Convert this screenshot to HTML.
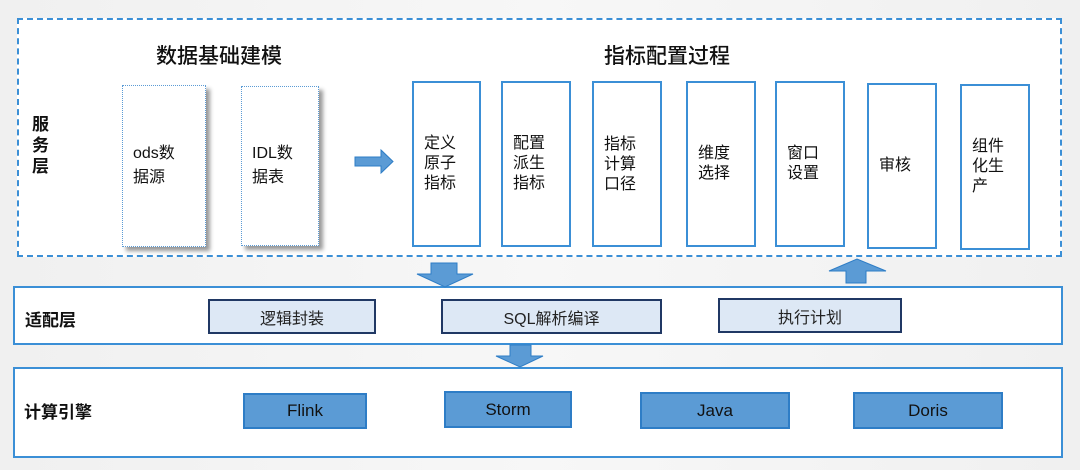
<!DOCTYPE html>
<html><head><meta charset="utf-8"><style>
body{margin:0;width:1080px;height:470px;overflow:hidden;background:linear-gradient(90deg,#f0f0f0,#f7f7f7 50%,#f0f0f0);font-family:"Liberation Sans","Noto Sans CJK SC",sans-serif;color:#111;position:relative}
.a{position:absolute;box-sizing:border-box}
.ib{border:2px solid #3b8fd6;background:#fff;padding-left:10px;display:flex;align-items:center;font-size:16px;line-height:20px}
.db{border:1px dotted #5b9bd5;background:#fff;box-shadow:4px 4px 4px #999;display:flex;align-items:center;padding-left:10px;font-size:16px;line-height:24px}
.ad{background:#dde8f5;border:2px solid #203864;display:flex;align-items:center;justify-content:center;font-size:16px;color:#222}
.ce{background:#5b9bd5;border:2px solid #2e7dc6;display:flex;align-items:center;justify-content:center;font-size:17px;color:#111}
</style></head><body>
<div class="a" style="left:17px;top:18px;width:1045px;height:239px;border:2px dashed #3b8fd6;background:#fff"></div>
<div class="a" style="left:13px;top:286px;width:1050px;height:59px;border:2px solid #3b8fd6;background:#fff"></div>
<div class="a" style="left:13px;top:367px;width:1050px;height:91px;border:2px solid #3b8fd6;background:#fff"></div>

<div class="a" style="left:156px;top:40px;font-size:21px;font-weight:500">数据基础建模</div>
<div class="a" style="left:604px;top:40px;font-size:21px;font-weight:500">指标配置过程</div>
<div class="a" style="left:32px;top:114px;width:20px;font-size:17px;line-height:21px;font-weight:bold">服务层</div>
<div class="a" style="left:25px;top:306px;font-size:17px;font-weight:bold">适配层</div>
<div class="a" style="left:24px;top:398px;font-size:17px;font-weight:bold">计算引擎</div>

<div class="a db" style="left:122px;top:85px;width:84px;height:162px">ods数<br>据源</div>
<div class="a db" style="left:241px;top:86px;width:78px;height:160px">IDL数<br>据表</div>

<svg class="a" style="left:0;top:0" width="1080" height="470">
<polygon points="355,157 381,157 381,150 393,161.5 381,173 381,166 355,166" fill="#5b9bd5" stroke="#2e7dc6" stroke-width="1"/>
<polygon points="431,263 457,263 457,274 473,274 445,287 417,274 431,274" fill="#5b9bd5" stroke="#2e7dc6"/>
<polygon points="846,283 866,283 866,271 886,271 857,259 829,271 846,271" fill="#5b9bd5" stroke="#2e7dc6"/>
<polygon points="510,345 531,345 531,356 543,356 520,367 496,356 510,356" fill="#5b9bd5" stroke="#2e7dc6"/>
</svg>

<div class="a ib" style="left:412px;top:81px;width:69px;height:166px">定义<br>原子<br>指标</div>
<div class="a ib" style="left:501px;top:81px;width:70px;height:166px">配置<br>派生<br>指标</div>
<div class="a ib" style="left:592px;top:81px;width:70px;height:166px;align-items:flex-start;padding-top:52px">指标<br>计算<br>口径</div>
<div class="a ib" style="left:686px;top:81px;width:70px;height:166px">维度<br>选择</div>
<div class="a ib" style="left:775px;top:81px;width:70px;height:166px">窗口<br>设置</div>
<div class="a ib" style="left:867px;top:83px;width:70px;height:166px">审核</div>
<div class="a ib" style="left:960px;top:84px;width:70px;height:166px">组件<br>化生<br>产</div>

<div class="a ad" style="left:208px;top:299px;width:168px;height:35px">逻辑封装</div>
<div class="a ad" style="left:441px;top:299px;width:221px;height:35px">SQL解析编译</div>
<div class="a ad" style="left:718px;top:298px;width:184px;height:35px">执行计划</div>

<div class="a ce" style="left:243px;top:393px;width:124px;height:36px">Flink</div>
<div class="a ce" style="left:444px;top:391px;width:128px;height:37px">Storm</div>
<div class="a ce" style="left:640px;top:392px;width:150px;height:37px">Java</div>
<div class="a ce" style="left:853px;top:392px;width:150px;height:37px">Doris</div>
</body></html>
